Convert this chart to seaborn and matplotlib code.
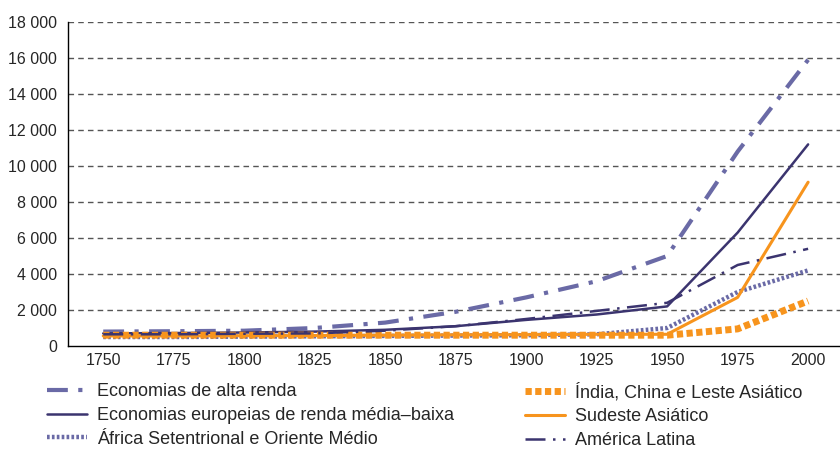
import numpy as np
import pandas as pd
import matplotlib.pyplot as plt
import seaborn as sns
from matplotlib.ticker import FixedLocator, FuncFormatter

years = [1750, 1775, 1800, 1825, 1850, 1875, 1900, 1925, 1950, 1975, 2000]

alta_renda = [800, 820, 850, 1000, 1300, 1900, 2700, 3600, 5000, 10800, 15900]
europa = [700, 720, 750, 800, 900, 1100, 1450, 1750, 2200, 6300, 11200]
africa_om = [500, 500, 520, 540, 560, 580, 600, 650, 1000, 3000, 4200]
india_china = [600, 600, 600, 600, 600, 600, 600, 600, 600, 950, 2500]
sudeste = [560, 560, 570, 580, 600, 620, 630, 650, 650, 2700, 9100]
latina = [650, 650, 680, 700, 850, 1100, 1500, 1950, 2400, 4500, 5400]

labels = [
    "Economias de alta renda",
    "Economias europeias de renda média\u2013baixa",
    "África Setentrional e Oriente Médio",
    "Índia, China e Leste Asiático",
    "Sudeste Asiático",
    "América Latina",
]
series = [alta_renda, europa, africa_om, india_china, sudeste, latina]

navy = "#3b346f"
slate = "#6a6aa6"
orange = "#f7941d"
# color, width, dash pattern (None = solid)
styles = [
    (slate, 3.0, (5, 2.5, 1, 2.5)),
    (navy, 1.8, None),
    (slate, 3.2, (0.6, 0.5)),
    (orange, 5.0, (0.9, 0.5)),
    (orange, 2.2, None),
    (navy, 1.8, (8, 3, 1, 3)),
]

sns.set_style("white")
plt.rcParams["font.family"] = ["Liberation Sans", "DejaVu Sans"]

fig = plt.figure(figsize=(8.4, 4.5), dpi=100)
ax = fig.add_axes([68 / 840, 1 - 346 / 450, 1 - 68 / 840 + 0.004, (346 - 22) / 450])

pos = np.arange(len(years))
handles = []
for vals, lab, (c, lw, d) in zip(series, labels, styles):
    df = pd.DataFrame({"x": pos, "y": vals})
    sns.lineplot(data=df, x="x", y="y", ax=ax, color=c, linewidth=lw, label=lab)
    ln = ax.lines[-1]
    if d is not None:
        ln.set_dashes(d)
    handles.append(ln)
ax.get_legend().remove()

ax.set_xlim(-0.5, len(years) - 0.5)
ax.set_ylim(0, 18000)
ax.set_yticks(np.arange(0, 18001, 2000))
ax.yaxis.set_major_formatter(FuncFormatter(lambda v, p: f"{int(v):,}".replace(",", " ")))
ax.set_xticks(pos)
ax.set_xticklabels([str(y) for y in years])
ax.xaxis.set_minor_locator(FixedLocator(np.arange(-0.5, len(years), 1.0)))
ax.tick_params(axis="x", which="major", length=0, labelsize=11.5, pad=5)
ax.tick_params(axis="x", which="minor", length=5, width=1, direction="out", color="black")
ax.tick_params(axis="y", which="major", length=5, width=1, direction="out", labelsize=11.5, pad=3, color="black")
ax.set_xlabel("")
ax.set_ylabel("")

for v in np.arange(2000, 18001, 2000):
    ax.axhline(v, color="#555555", linewidth=1, dashes=(4, 3), zorder=0)

for s in ["top", "right"]:
    ax.spines[s].set_visible(False)
for s in ["left", "bottom"]:
    ax.spines[s].set_color("black")
    ax.spines[s].set_linewidth(1)

leg_kw = dict(frameon=False, fontsize=13, handlelength=2.2, handletextpad=0.55,
              labelspacing=0.38, borderaxespad=0, borderpad=0)
l1 = fig.legend(handles[:3], labels[:3], loc="upper left", bbox_to_anchor=(47 / 840, 1 - 383 / 450), **leg_kw)
l2 = fig.legend(handles[3:], labels[3:], loc="upper left", bbox_to_anchor=(525 / 840, 1 - 383 / 450), **leg_kw)

fig.savefig("out.png", dpi=100)
